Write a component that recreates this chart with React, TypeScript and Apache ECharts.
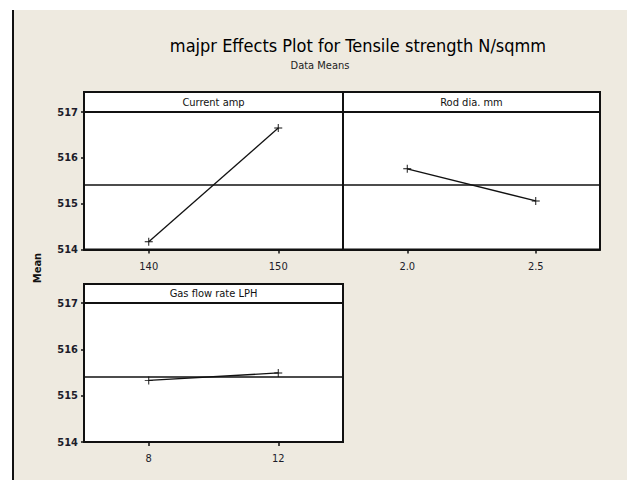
import React, { useEffect, useRef } from "react";
import * as echarts from "echarts";

const titleText = "majpr Effects Plot for Tensile strength N/sqmm";
const subtitleText = "Data Means";
const yAxisName = "Mean";
const panelNames = ["Current amp", "Rod dia. mm", "Gas flow rate LPH"];
const currentCats = ["140", "150"];
const currentMeans = [514.17, 516.65];
const rodCats = ["2.0", "2.5"];
const rodMeans = [515.76, 515.06];
const gasCats = ["8", "12"];
const gasMeans = [515.33, 515.49];
const grandMean = 515.41;
const yMin = 514;
const yMax = 517;

const FONT = "'Liberation Sans Narrow', 'DejaVu Sans Condensed', 'DejaVu Sans', sans-serif";
const plusSymbol = "path://M4.4,0h1.2v4.4h4.4v1.2h-4.4v4.4h-1.2v-4.4h-4.4v-1.2h4.4z";

export default function App() {
  const ref = useRef<HTMLDivElement>(null);
  useEffect(() => {
    if (!ref.current) return;
    const chart = echarts.init(ref.current, null, { renderer: "svg" });
    const grids = [
      { left: 84, top: 112, width: 259, height: 137.5 },
      { left: 343, top: 112, width: 257, height: 137.5 },
      { left: 84, top: 303, width: 259, height: 139 },
    ];
    const cats = [currentCats, rodCats, gasCats];
    const vals = [currentMeans, rodMeans, gasMeans];
    const strips = [
      { x: 84, y: 92, w: 259, h: 20 },
      { x: 343, y: 92, w: 257, h: 20 },
      { x: 84, y: 284, w: 259, h: 19 },
    ];
    const option: any = {
      animation: false,
      backgroundColor: "#EEEAE0",
      grid: grids.map((g) => ({
        ...g,
        show: true,
        backgroundColor: "#ffffff",
        borderColor: "#111",
        borderWidth: 2,
      })),
      xAxis: cats.map((c, i) => ({
        type: "category",
        gridIndex: i,
        data: c,
        boundaryGap: true,
        axisLine: { show: true, lineStyle: { color: "#111", width: 2 } },
        axisTick: { show: true, alignWithLabel: true, length: 4, lineStyle: { color: "#111", width: 1.5 } },
        axisLabel: { margin: 11, fontSize: 11, color: "#1c1c2a", fontFamily: FONT },
        splitLine: { show: false },
      })),
      yAxis: [0, 1, 2].map((i) => ({
        type: "value",
        gridIndex: i,
        min: yMin,
        max: yMax,
        interval: 1,
        axisLine: { show: true, lineStyle: { color: "#111", width: 2 } },
        axisTick: { show: i !== 1, length: 3, lineStyle: { color: "#111", width: 1.5 } },
        axisLabel: { show: i !== 1, margin: 6, fontSize: 11, color: "#1c1c2a", fontFamily: FONT, fontWeight: "bold" },
        splitLine: { show: false },
      })),
      series: vals.map((v, i) => ({
        type: "line",
        xAxisIndex: i,
        yAxisIndex: i,
        data: v,
        symbol: plusSymbol,
        symbolSize: 8,
        lineStyle: { color: "#111", width: 1.3 },
        itemStyle: { color: "#111" },
        markLine: {
          silent: true,
          symbol: "none",
          label: { show: false },
          lineStyle: { color: "#111", width: 1.6, type: "solid" },
          data: [{ yAxis: grandMean }],
        },
      })),
      graphic: [
        { type: "rect", shape: { x: 0, y: 0, width: 627, height: 10 }, style: { fill: "#ffffff" } },
        { type: "rect", shape: { x: 0, y: 0, width: 12, height: 480 }, style: { fill: "#ffffff" } },
        { type: "rect", shape: { x: 12, y: 10, width: 2, height: 470 }, style: { fill: "#111" } },
        {
          type: "text",
          x: 358,
          y: 45,
          style: { text: titleText, align: "center", verticalAlign: "middle", font: `18px ${FONT}`, fill: "#000" },
        },
        {
          type: "text",
          x: 320,
          y: 65,
          style: { text: subtitleText, align: "center", verticalAlign: "middle", font: `11px ${FONT}`, fill: "#222" },
        },
        {
          type: "text",
          x: 37,
          y: 268,
          rotation: Math.PI / 2,
          style: { text: yAxisName, align: "center", verticalAlign: "middle", font: `bold 11px ${FONT}`, fill: "#111" },
        },
        ...strips.map((s, i) => ({
          type: "group",
          children: [
            {
              type: "rect",
              shape: { x: s.x, y: s.y, width: s.w, height: s.h },
              style: { fill: "#ffffff", stroke: "#111", lineWidth: 2 },
            },
            {
              type: "text",
              x: s.x + s.w / 2,
              y: s.y + s.h / 2,
              style: { text: panelNames[i], align: "center", verticalAlign: "middle", font: `11px ${FONT}`, fill: "#111" },
            },
          ],
        })),
      ],
    };
    chart.setOption(option);
    return () => chart.dispose();
  }, []);
  return <div ref={ref} style={{ position: "absolute", left: 0, top: 0, width: 627, height: 480 }} />;
}
